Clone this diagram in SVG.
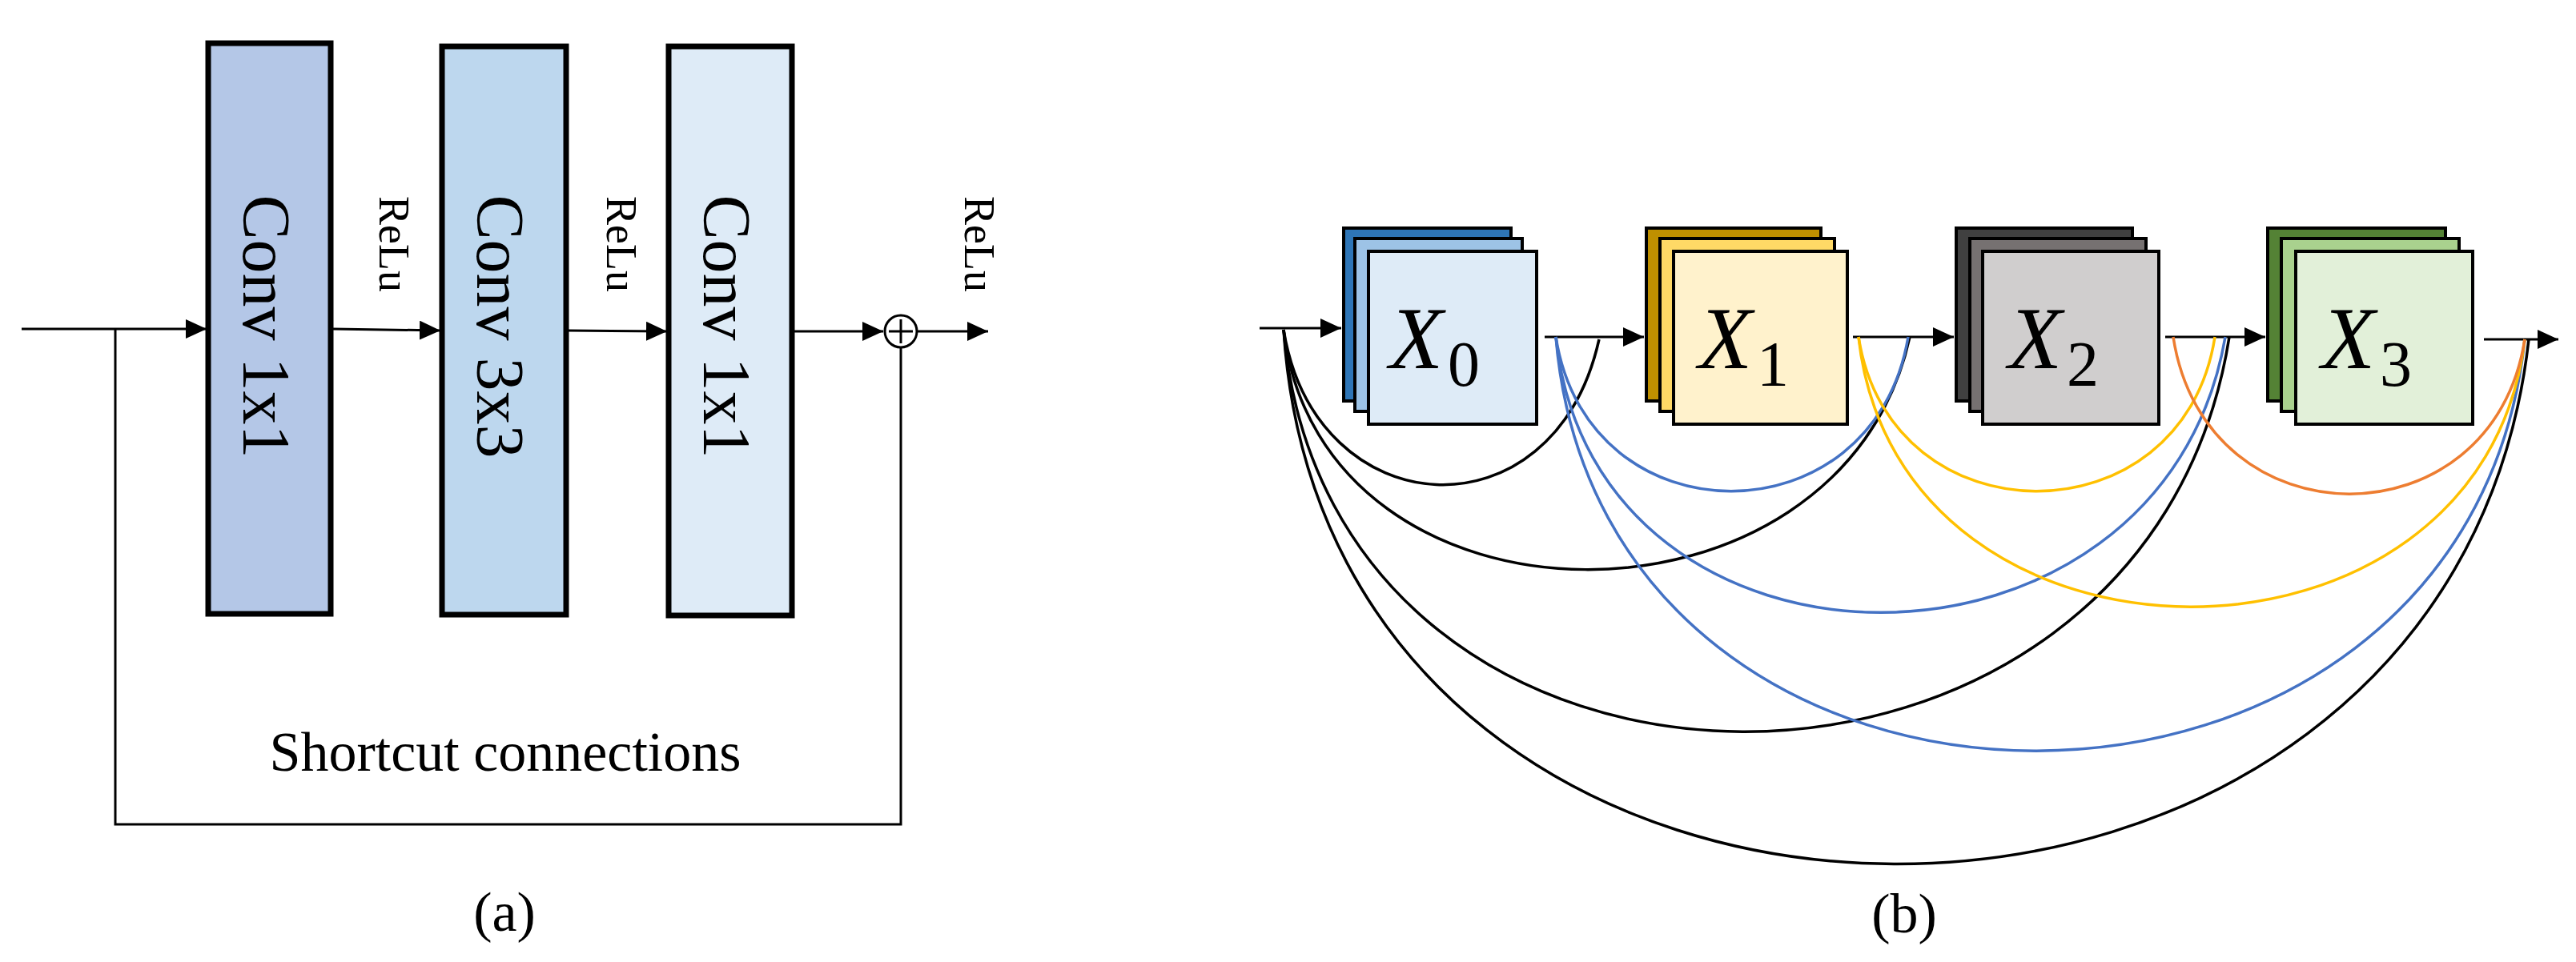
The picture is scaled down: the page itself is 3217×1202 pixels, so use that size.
<svg xmlns="http://www.w3.org/2000/svg" width="3217" height="1202" viewBox="0 0 3217 1202">
<style>
.box{stroke:#000;stroke-width:7}
.ln{stroke:#000;stroke-width:3;fill:none}
.t{font-family:"Liberation Serif",serif;fill:#000}
.st{stroke:#000;stroke-width:4}
.cv{fill:none;stroke-width:3.5}
.m{font-family:"Liberation Serif",serif;font-style:italic;fill:#000}
</style>
<defs>
<marker id="ah" markerWidth="10" markerHeight="10" refX="9" refY="5" orient="auto" markerUnits="userSpaceOnUse" viewBox="0 0 10 10"><path d="M0,0L10,5L0,10z" fill="#000"/></marker>
<marker id="ah2" markerWidth="26" markerHeight="24" refX="26" refY="12" orient="auto" markerUnits="userSpaceOnUse"><path d="M0,0L26,12L0,24z" fill="#000"/></marker>
</defs>
<g id="panel-a">
<g id="conv1"><rect class="box" x="260" y="54" width="153" height="713" fill="#b4c7e7"/><text class="t" font-size="84" transform="translate(332,408) rotate(90)" text-anchor="middle" dominant-baseline="central">Conv 1x1</text></g>
<g id="conv2"><rect class="box" x="552" y="58" width="155" height="710" fill="#bdd7ee"/><text class="t" font-size="84" transform="translate(624,408) rotate(90)" text-anchor="middle" dominant-baseline="central">Conv 3x3</text></g>
<g id="conv3"><rect class="box" x="835" y="58" width="154" height="711" fill="#deebf7"/><text class="t" font-size="84" transform="translate(907,408) rotate(90)" text-anchor="middle" dominant-baseline="central">Conv 1x1</text></g>
<g id="relu-labels">
<text class="t" font-size="54" transform="translate(492,305) rotate(90)" text-anchor="middle" dominant-baseline="central">ReLu</text>
<text class="t" font-size="54" transform="translate(776,305) rotate(90)" text-anchor="middle" dominant-baseline="central">ReLu</text>
<text class="t" font-size="54" transform="translate(1223,305) rotate(90)" text-anchor="middle" dominant-baseline="central">ReLu</text>
</g>
<g id="sum"><circle cx="1125" cy="414" r="20" fill="#fff" stroke="#000" stroke-width="3"/><path class="ln" d="M1110,414H1140M1125,399V429"/></g>
<g id="connectors-a">
<path class="ln" d="M27,411H258" marker-end="url(#ah2)"/>
<path class="ln" d="M416,411L550,413" marker-end="url(#ah2)"/>
<path class="ln" d="M710,413L833,414" marker-end="url(#ah2)"/>
<path class="ln" d="M992,414H1103" marker-end="url(#ah2)"/>
<path class="ln" d="M1146,414H1234" marker-end="url(#ah2)"/>
<path class="ln" d="M144,411V1030H1125V435"/>
</g>
<text class="t" font-size="70" x="631" y="963" text-anchor="middle">Shortcut connections</text>
<text class="t" font-size="70" x="630" y="1163" text-anchor="middle">(a)</text>
</g>
<g id="panel-b">
<g id="x0"><rect class="st" x="1678" y="285" width="209" height="216" fill="#2e75b6"/><rect class="st" x="1692" y="298" width="209" height="216" fill="#9dc3e6"/><rect class="st" x="1709" y="314" width="210" height="216" fill="#deebf7"/><text class="m" font-size="110" x="1735" y="460">X</text><text class="t" font-size="80" x="1808" y="482">0</text></g>
<g id="x1"><rect class="st" x="2056" y="285" width="218" height="216" fill="#bf9000"/><rect class="st" x="2073" y="298" width="218" height="216" fill="#ffd966"/><rect class="st" x="2090" y="314" width="217" height="216" fill="#fff2cc"/><text class="m" font-size="110" x="2121" y="460">X</text><text class="t" font-size="80" x="2194" y="482">1</text></g>
<g id="x2"><rect class="st" x="2443" y="285" width="220" height="216" fill="#404040"/><rect class="st" x="2460" y="298" width="220" height="216" fill="#767171"/><rect class="st" x="2476" y="314" width="220" height="216" fill="#d0cece"/><text class="m" font-size="110" x="2508" y="460">X</text><text class="t" font-size="80" x="2581" y="482">2</text></g>
<g id="x3"><rect class="st" x="2832" y="285" width="222" height="216" fill="#548235"/><rect class="st" x="2849" y="298" width="222" height="216" fill="#a9d18e"/><rect class="st" x="2867" y="314" width="221" height="216" fill="#e2f0d9"/><text class="m" font-size="110" x="2899" y="460">X</text><text class="t" font-size="80" x="2972" y="482">3</text></g>
<g id="connectors-b">
<path class="ln" d="M1573,410H1675" marker-end="url(#ah2)"/>
<path class="ln" d="M1929,421H2053" marker-end="url(#ah2)"/>
<path class="ln" d="M2314,421H2440" marker-end="url(#ah2)"/>
<path class="ln" d="M2704,421H2829" marker-end="url(#ah2)"/>
<path class="ln" d="M3102,424H3195" marker-end="url(#ah2)"/>
<path class="cv" stroke="#000" d="M1603,412C1643,658 1940,678 1997,424"/>
<path class="cv" stroke="#000" d="M1603,412C1650,810 2300,810 2385,421"/>
<path class="cv" stroke="#000" d="M1603,412C1660,1080 2680,1080 2784,421"/>
<path class="cv" stroke="#000" d="M1603,412C1660,1300 3060,1300 3158,424"/>
<path class="cv" stroke="#4472c4" d="M1943,421C1983,678 2340,678 2383,421"/>
<path class="cv" stroke="#4472c4" d="M1943,421C1990,880 2700,880 2779,421"/>
<path class="cv" stroke="#4472c4" d="M1943,421C2000,1110 3080,1110 3153,424"/>
<path class="cv" stroke="#ffc000" d="M2321,421C2361,678 2726,678 2766,421"/>
<path class="cv" stroke="#ffc000" d="M2321,421C2370,870 3100,870 3153,424"/>
<path class="cv" stroke="#ed7d31" d="M2714,421C2754,682 3113,682 3153,424"/>
</g>
<text class="t" font-size="70" x="2378" y="1165" text-anchor="middle">(b)</text>
</g>
</svg>
